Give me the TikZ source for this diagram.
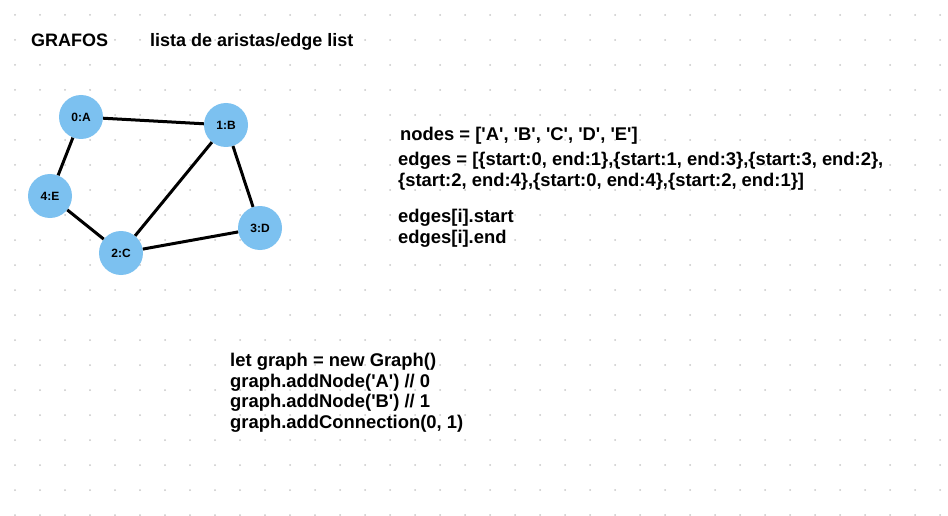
\documentclass[tikz,border=0pt]{standalone}
\usepackage{fontspec}
\setmainfont{Liberation Sans}
\usepackage{xcolor}
\usetikzlibrary{positioning}
\definecolor{nodeblue}{RGB}{124,193,240}
\definecolor{dotgray}{RGB}{200,200,200}
\newcommand{\q}{\textquotesingle}
\begin{document}
\begin{tikzpicture}[
    x=1pt, y=-1pt,
    vertex/.style={circle, fill=nodeblue, minimum size=44pt, inner sep=0pt, font=\fontsize{12}{14}\selectfont\bfseries},
    title/.style={anchor=base west, inner sep=0pt, font=\fontsize{18}{21}\selectfont\bfseries},
    code/.style={anchor=base west, inner sep=0pt, align=left, font=\fontsize{18.4}{20.5}\selectfont\bfseries},
    link/.style={line width=3pt}
]
    \useasboundingbox[fill=white] (0,0) rectangle (948,516);
    % dot grid
    \foreach \i in {0,...,37} {
        \foreach \j in {0,...,20} {
            \fill[dotgray] (15+25*\i, 15+25*\j) circle (1pt);
        }
    }

    \node[title] (grafos) at (31,47) {GRAFOS};
    \node[title] (lista) at (150,47) {lista de aristas/edge list};

    \node[vertex] (a) at (81,117) {0:A};
    \node[vertex] (b) at (226,125) {1:B};
    \node[vertex] (c) at (121,253) {2:C};
    \node[vertex] (d) at (260,228) {3:D};
    \node[vertex] (e) at (50,196) {4:E};

    \draw[link] (a) -- (b);
    \draw[link] (a) -- (e);
    \draw[link] (e) -- (c);
    \draw[link] (c) -- (b);
    \draw[link] (b) -- (d);
    \draw[link] (d) -- (c);

    % base anchor of a multi-line node sits on its last line
    \node[code] (nodes) at (400,141) {nodes = [\q A\q, \q B\q, \q C\q, \q D\q, \q E\q]};
    \node[code] (edges) at (398,186) {edges = [\{start:0, end:1\},\{start:1, end:3\},\{start:3, end:2\},\\
        \{start:2, end:4\},\{start:0, end:4\},\{start:2, end:1\}]};
    \node[code] (access) at (398,243) {edges[i].start\\edges[i].end};

    \node[code] (graph) at (230,428) {let graph = new Graph()\\
        graph.addNode(\q A\q) // 0\\
        graph.addNode(\q B\q) // 1\\
        graph.addConnection(0, 1)};
\end{tikzpicture}
\end{document}
